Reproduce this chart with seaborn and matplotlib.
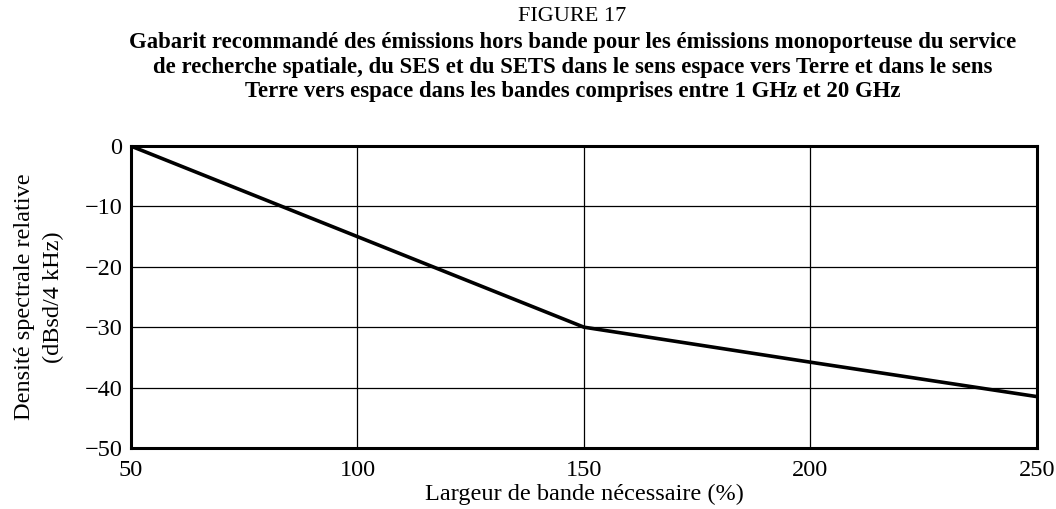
import matplotlib
matplotlib.use("Agg")
import matplotlib.pyplot as plt
import seaborn as sns
import pandas as pd

# Data
largeur = [50, 150, 200, 250]          # bandwidth (%)
densite = [0, -30, -35.8, -41.5]       # relative spectral density (dBsd/4 kHz)
x_ticks = [50, 100, 150, 200, 250]
y_ticks = [0, -10, -20, -30, -40, -50]

sns.set_theme(style="white")
plt.rcParams['font.family'] = ['Liberation Serif', 'DejaVu Serif']

df = pd.DataFrame({"x": largeur, "y": densite})

fig = plt.figure(figsize=(10.56, 5.09), dpi=100)
ax = fig.add_axes([0.124, 0.120, 0.858, 0.593])

sns.lineplot(data=df, x="x", y="y", ax=ax, color="black", linewidth=2.6)

ax.set_xlim(50, 250)
ax.set_ylim(-50, 0)
ax.set_xticks(x_ticks)
ax.set_yticks(y_ticks)
ax.set_xticklabels([str(v) for v in x_ticks])
ax.set_yticklabels([str(v).replace('-', '\u2212') for v in y_ticks])
ax.tick_params(length=0, labelsize=17.5, colors="black")
ax.tick_params(axis="x", pad=9)
ax.tick_params(axis="y", pad=6)
ax.grid(True, color="black", linewidth=0.9)
for s in ax.spines.values():
    s.set_color("black")
    s.set_linewidth(2.2)

ax.set_xlabel("Largeur de bande nécessaire (%)", fontsize=17.5, color="black", labelpad=2)
ax.set_ylabel("Densité spectrale relative\n(dBsd/4 kHz)", fontsize=17.5, color="black",
              labelpad=15, linespacing=1.5)

fig.text(0.542, 0.967, "FIGURE 17", ha="center", va="center", fontsize=16, color="black")
fig.text(0.542, 0.868,
         "Gabarit recommandé des émissions hors bande pour les émissions monoporteuse du service\n"
         "de recherche spatiale, du SES et du SETS dans le sens espace vers Terre et dans le sens\n"
         "Terre vers espace dans les bandes comprises entre 1 GHz et 20 GHz",
         ha="center", va="center", fontsize=16.4, fontweight="bold", color="black",
         linespacing=1.2)

fig.savefig("out.png", dpi=100, facecolor="white")
